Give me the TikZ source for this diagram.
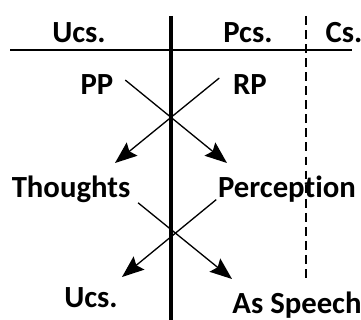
\documentclass[tikz,border=0pt]{standalone}
\usepackage{fontspec}
\setmainfont{Carlito}[Ligatures=NoCommon]
\usetikzlibrary{arrows.meta, calc}

\begin{document}
\begin{tikzpicture}[
    x=0.02cm, y=-0.02cm,
    lbl/.style={font=\bfseries\fontsize{17.5}{20}\selectfont, anchor=base, inner sep=2pt},
    arr/.style={-{Stealth[length=0.44cm, width=0.34cm, inset=0.07cm]}, line width=0.75pt},
    divider/.style={line width=2.3pt},
    rule/.style={line width=1.1pt},
    border/.style={line width=0.8pt, dash pattern=on 5pt off 3pt},
]
\useasboundingbox (0,0) rectangle (361,320);

% -- column heads --
\node[lbl] (ucsHead) at (79,43) {Ucs.};
\node[lbl] (pcsHead) at (248,43) {Pcs.};
\node[lbl] (csHead) at (344,43) {Cs.};

% -- dividing lines --
\draw[rule] (10,50) -- (352,50);
\draw[divider] (171,16) -- (171,320);
\draw[border] (306,16) -- (306,283);

% -- labels --
\node[lbl] (PP) at (97,95) {PP};
\node[lbl] (RP) at (250,95) {RP};
\node[lbl] (Thoughts) at (71,198) {Thoughts};
\node[lbl] (Perception) at (287,198) {Percept\kern0pt ion};
\node[lbl] (Ucs) at (91,307) {Ucs.};
\node[lbl] (Speech) at (297,313) {As Speech};

% -- arrow tips --
\coordinate (tipA) at (227,163);
\coordinate (tipB) at (115,163);
\coordinate (tipC) at (232,279);
\coordinate (tipD) at (122,277);

% -- crossing arrows --
\draw[arr] ($(PP.east)+(8,-5)$) -- (tipA);
\draw[arr] ($(RP.west)+(-10,-7)$) -- (tipB);
\draw[arr] ($(Thoughts.east)+(4,13)$) -- (tipC);
\draw[arr] ($(Perception.west)+(2,10)$) -- (tipD);

\end{tikzpicture}
\end{document}
